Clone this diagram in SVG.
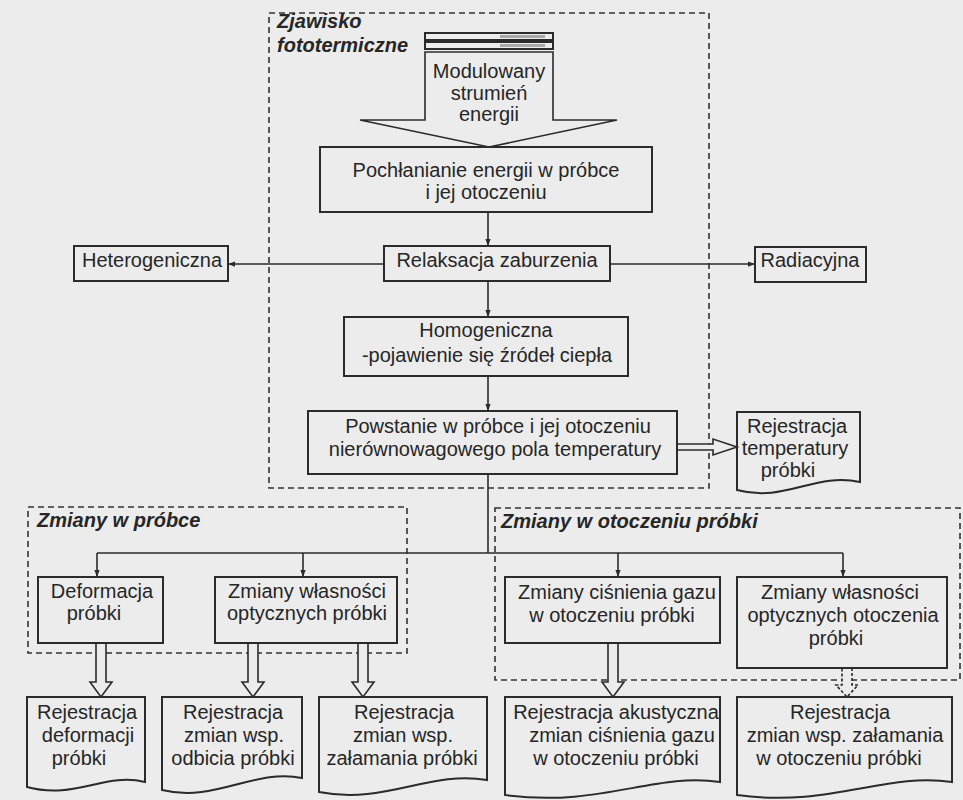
<svg xmlns="http://www.w3.org/2000/svg" width="963" height="800" viewBox="0 0 963 800">
<defs>
<style>
.bg{fill:#ececec}
.box{fill:none;stroke:#2b2b2b;stroke-width:2}
.doc{fill:none;stroke:#2b2b2b;stroke-width:2}
.dash{fill:none;stroke:#333;stroke-width:1.6;stroke-dasharray:6 4}
.t{font-family:"Liberation Sans",Arial,sans-serif;font-size:20px;fill:#262626;text-anchor:middle}
.ti{font-family:"Liberation Sans",Arial,sans-serif;font-size:20px;font-weight:bold;font-style:italic;fill:#262626}
.c{fill:none;stroke:#2b2b2b;stroke-width:1.6}
.ha{fill:#ececec;stroke:#2b2b2b;stroke-width:1.6}
.had{fill:#ececec;stroke:#2b2b2b;stroke-width:1.6;stroke-dasharray:3 2}
</style>
<marker id="ah" viewBox="0 0 8 8" refX="8" refY="4" markerWidth="7" markerHeight="7" markerUnits="userSpaceOnUse" orient="auto">
<path d="M0,1 L8,4 L0,7 z" fill="#2b2b2b"/>
</marker>
</defs>
<rect class="bg" x="0" y="0" width="963" height="800"/>

<g id="group-zjawisko">
<rect class="dash" x="269" y="13" width="440" height="475"/>
<text class="ti" x="277" y="28">Zjawisko</text>
<text class="ti" x="277" y="52">fototermiczne</text>
</g>

<g id="group-zmiany-probka">
<rect class="dash" x="28" y="507" width="379" height="146"/>
<text class="ti" x="37" y="527">Zmiany w próbce</text>
</g>

<g id="group-zmiany-otoczenie">
<rect class="dash" x="495" y="508" width="465" height="172"/>
<text class="ti" x="501" y="528">Zmiany w otoczeniu próbki</text>
</g>

<g id="connectors">
<line class="c" x1="488" y1="212" x2="488" y2="246" marker-end="url(#ah)"/>
<line class="c" x1="384" y1="264" x2="228" y2="264" marker-end="url(#ah)"/>
<line class="c" x1="610" y1="264" x2="755" y2="264" marker-end="url(#ah)"/>
<line class="c" x1="488" y1="281" x2="488" y2="317" marker-end="url(#ah)"/>
<line class="c" x1="488" y1="376" x2="488" y2="411" marker-end="url(#ah)"/>
<polyline class="c" points="488,474 488,553"/>
<line class="c" x1="97" y1="553" x2="843" y2="553"/>
<line class="c" x1="97" y1="553" x2="97" y2="577" marker-end="url(#ah)"/>
<line class="c" x1="303" y1="553" x2="303" y2="577" marker-end="url(#ah)"/>
<line class="c" x1="618" y1="553" x2="618" y2="577" marker-end="url(#ah)"/>
<line class="c" x1="843" y1="553" x2="843" y2="577" marker-end="url(#ah)"/>
<polygon class="ha" points="677,444 713,444 713,439 737,447 713,455 713,450 677,450"/>
<polygon class="ha" points="96,643 106,643 106,682 112,682 101,697 90,682 96,682"/>
<polygon class="ha" points="248,643 258,643 258,682 264,682 253,697 242,682 248,682"/>
<polygon class="ha" points="358,643 368,643 368,682 374,682 363,697 352,682 358,682"/>
<polygon class="ha" points="608,643 618,643 618,682 624,682 613,697 602,682 608,682"/>
<polygon class="had" points="842,668 852,668 852,685 858,685 847,697 836,685 842,685"/>
</g>

<g id="n-modulowany">
<rect class="box" x="425" y="33" width="128" height="7" stroke-width="1.5"/>
<rect class="box" x="425" y="42" width="128" height="7" stroke-width="1.5"/>
<rect x="500" y="35" width="45" height="3" fill="#aaa"/>
<rect x="500" y="44" width="45" height="3" fill="#aaa"/>
<polygon class="ha" points="425,52 553,52 553,120 617,120 489,147 360,120 425,120" stroke-width="2"/>
<text class="t" x="489" y="78">Modulowany</text>
<text class="t" x="489" y="100">strumień</text>
<text class="t" x="489" y="121">energii</text>
</g>

<g id="n-pochlanianie">
<rect class="box" x="320" y="147" width="332" height="65"/>
<text class="t" x="486" y="177">Pochłanianie energii w próbce</text>
<text class="t" x="486" y="199">i jej otoczeniu</text>
</g>

<g id="n-relaksacja">
<rect class="box" x="384" y="246" width="226" height="35"/>
<text class="t" x="497" y="267">Relaksacja zaburzenia</text>
</g>

<g id="n-heterogeniczna">
<rect class="box" x="74" y="246" width="154" height="35"/>
<text class="t" x="152" y="267">Heterogeniczna</text>
</g>

<g id="n-radiacyjna">
<rect class="box" x="755" y="247" width="111" height="35"/>
<text class="t" x="810" y="267">Radiacyjna</text>
</g>

<g id="n-homogeniczna">
<rect class="box" x="344" y="317" width="284" height="59"/>
<text class="t" x="486" y="337">Homogeniczna</text>
<text class="t" x="487" y="362">-pojawienie się źródeł ciepła</text>
</g>

<g id="n-powstanie">
<rect class="box" x="308" y="411" width="369" height="63"/>
<text class="t" x="498" y="433">Powstanie w próbce i jej otoczeniu</text>
<text class="t" x="495" y="456">nierównowagowego pola temperatury</text>
</g>

<g id="n-rej-temperatury">
<path class="doc" d="M737,412 H860 V482 C815,472 785,503 737,490 Z"/>
<text class="t" x="797" y="433">Rejestracja</text>
<text class="t" x="795" y="455">temperatury</text>
<text class="t" x="788" y="477">próbki</text>
</g>

<g id="n-deformacja">
<rect class="box" x="38" y="577" width="125" height="66"/>
<text class="t" x="102" y="598">Deformacja</text>
<text class="t" x="94" y="620">próbki</text>
</g>

<g id="n-optyczne-probki">
<rect class="box" x="215" y="577" width="182" height="66"/>
<text class="t" x="307" y="598">Zmiany własności</text>
<text class="t" x="307" y="620">optycznych próbki</text>
</g>

<g id="n-cisnienie">
<rect class="box" x="505" y="577" width="215" height="66"/>
<text class="t" x="617" y="599">Zmiany ciśnienia gazu</text>
<text class="t" x="612" y="622">w otoczeniu próbki</text>
</g>

<g id="n-optyczne-otoczenia">
<rect class="box" x="737" y="577" width="210" height="91"/>
<text class="t" x="840" y="599">Zmiany własności</text>
<text class="t" x="843" y="622">optycznych otoczenia</text>
<text class="t" x="836" y="645">próbki</text>
</g>

<g id="n-rej-deformacji">
<path class="doc" d="M27,697 H145 V782 C105,772 75,800 27,787 Z"/>
<text class="t" x="87" y="719">Rejestracja</text>
<text class="t" x="88" y="742">deformacji</text>
<text class="t" x="79" y="765">próbki</text>
</g>

<g id="n-rej-odbicia">
<path class="doc" d="M162,697 H302 V778 C255,768 215,803 162,790 Z"/>
<text class="t" x="233" y="719">Rejestracja</text>
<text class="t" x="234" y="742">zmian wsp.</text>
<text class="t" x="233" y="765">odbicia próbki</text>
</g>

<g id="n-rej-zalamania-probki">
<path class="doc" d="M319,697 H487 V780 C430,770 385,805 319,792 Z"/>
<text class="t" x="404" y="719">Rejestracja</text>
<text class="t" x="403" y="742">zmian wsp.</text>
<text class="t" x="402" y="765">załamania próbki</text>
</g>

<g id="n-rej-akustyczna">
<path class="doc" d="M505,697 H720 V782 C655,772 600,808 505,795 Z"/>
<text class="t" x="616" y="719">Rejestracja akustyczna</text>
<text class="t" x="622" y="742">zmian ciśnienia gazu</text>
<text class="t" x="616" y="765">w otoczeniu próbki</text>
</g>

<g id="n-rej-zalamania-otoczenia">
<path class="doc" d="M737,697 H952 V782 C885,772 830,808 737,795 Z"/>
<text class="t" x="840" y="719">Rejestracja</text>
<text class="t" x="845" y="742">zmian wsp. załamania</text>
<text class="t" x="839" y="765">w otoczeniu próbki</text>
</g>
</svg>
